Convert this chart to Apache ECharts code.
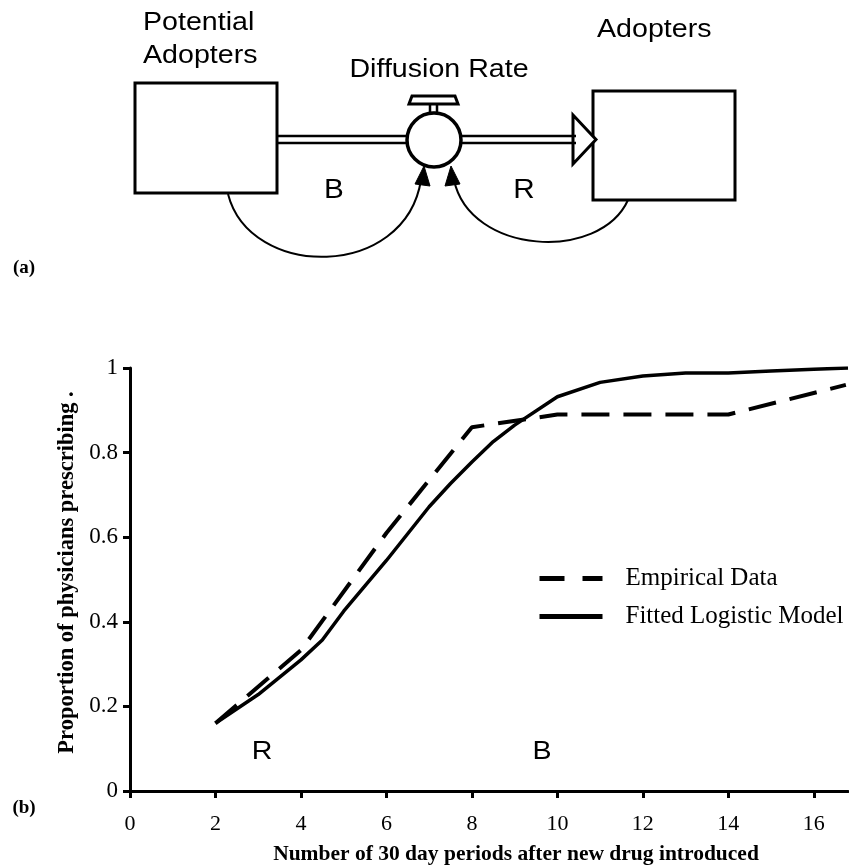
<!DOCTYPE html>
<html>
<head>
<meta charset="utf-8">
<script src="https://cdn.jsdelivr.net/npm/echarts@6/dist/echarts.min.js"></script>
<style>
html, body { margin: 0; padding: 0; background: #fff; }
#chart { width: 849px; height: 867px; }
</style>
</head>
<body>
<div id="chart"></div>
<script>
// data
var empiricalX = [2, 4, 6, 8, 10, 12, 14, 16.75];
var empiricalY = [0.16, 0.333, 0.61, 0.86, 0.89, 0.89, 0.89, 0.96];
var fittedX = [2, 3, 4, 4.5, 5, 6, 7, 7.5, 8, 8.5, 9, 10, 11, 12, 13, 14, 15, 16, 16.8];
var fittedY = [0.16, 0.228, 0.31, 0.357, 0.425, 0.545, 0.672, 0.727, 0.778, 0.826, 0.865, 0.932, 0.966, 0.981, 0.988, 0.988, 0.993, 0.997, 1.0];
var xTicks = [0, 2, 4, 6, 8, 10, 12, 14, 16];

function pairs(xs, ys) {
    var out = [];
    for (var i = 0; i < xs.length; i++) out.push([xs[i], ys[i]]);
    return out;
}

var serif = 'Liberation Serif, Times New Roman, serif';
var sans = 'Liberation Sans, Arial, sans-serif';

// plain text helper for the diagram, slightly wide like the original
function label(x, y, text, size, align) {
    return {
        type: 'text', x: x, y: y, scaleX: 1.1,
        style: { text: text, font: size + 'px ' + sans, fill: '#000', align: align || 'left', verticalAlign: 'middle' }
    };
}

/*
 stock and flow diagram (a)
 */
var diagram = [
    // stocks
    { type: 'rect', shape: { x: 135, y: 83, width: 142, height: 110 }, style: { fill: 'none', stroke: '#000', lineWidth: 3 } },
    { type: 'rect', shape: { x: 593, y: 91, width: 142, height: 109 }, style: { fill: 'none', stroke: '#000', lineWidth: 3 } },
    // pipes
    { type: 'line', shape: { x1: 277, y1: 136, x2: 410, y2: 136 }, style: { stroke: '#000', lineWidth: 2.5 } },
    { type: 'line', shape: { x1: 277, y1: 143, x2: 410, y2: 143 }, style: { stroke: '#000', lineWidth: 2.5 } },
    { type: 'polygon', shape: { points: [[573, 115], [596, 139.5], [573, 164]] }, style: { fill: '#fff', stroke: '#000', lineWidth: 3 } },
    { type: 'line', shape: { x1: 460, y1: 136, x2: 576, y2: 136 }, style: { stroke: '#000', lineWidth: 2.5 } },
    { type: 'line', shape: { x1: 460, y1: 143, x2: 576, y2: 143 }, style: { stroke: '#000', lineWidth: 2.5 } },
    // valve
    { type: 'rect', shape: { x: 430, y: 103, width: 7, height: 10 }, style: { fill: '#fff', stroke: '#000', lineWidth: 2.5 } },
    { type: 'polygon', shape: { points: [[412, 96], [455, 96], [458, 104], [409, 104]] }, style: { fill: '#fff', stroke: '#000', lineWidth: 3 } },
    { type: 'circle', shape: { cx: 434, cy: 140, r: 27 }, style: { fill: '#fff', stroke: '#000', lineWidth: 3.5 } },
    // loops
    { type: 'bezierCurve', shape: { x1: 228, y1: 194, cpx1: 250, cpy1: 280, cpx2: 405, cpy2: 280, x2: 421, y2: 180 }, style: { fill: 'none', stroke: '#000', lineWidth: 2 } },
    { type: 'polygon', shape: { points: [[424, 166], [430, 186], [415, 184]] }, style: { fill: '#000', stroke: '#000', lineWidth: 1 } },
    { type: 'bezierCurve', shape: { x1: 628, y1: 200, cpx1: 600, cpy1: 262, cpx2: 470, cpy2: 255, x2: 454, y2: 180 }, style: { fill: 'none', stroke: '#000', lineWidth: 2 } },
    { type: 'polygon', shape: { points: [[451, 166], [460, 184], [445, 186]] }, style: { fill: '#000', stroke: '#000', lineWidth: 1 } },
    // labels
    label(143, 23, 'Potential', 26),
    label(143, 56, 'Adopters', 26),
    label(439, 70, 'Diffusion Rate', 26, 'center'),
    label(597, 30, 'Adopters', 26),
    label(334, 191, 'B', 27, 'center'),
    label(524, 191, 'R', 27, 'center'),
    { type: 'text', style: { x: 24, y: 268, text: '(a)', font: 'bold 19px ' + serif, fill: '#000', align: 'center', verticalAlign: 'middle' } },
    { type: 'text', style: { x: 24, y: 808, text: '(b)', font: 'bold 19px ' + serif, fill: '#000', align: 'center', verticalAlign: 'middle' } },
    // loop labels inside the plot
    label(262, 752, 'R', 26, 'center'),
    label(542, 752, 'B', 26, 'center')
];

/*
 diffusion curve (b)
 */
var chart = echarts.init(document.getElementById('chart'), null, { renderer: 'canvas' });
chart.setOption({
    animation: false,
    backgroundColor: '#fff',
    grid: { left: 130, right: 1, top: 368, bottom: 76 },
    legend: {
        orient: 'vertical',
        left: 532,
        top: 561,
        itemWidth: 63,
        itemHeight: 14,
        itemGap: 13,
        itemStyle: { opacity: 0 },
        lineStyle: { width: 5 },
        textStyle: { fontFamily: serif, fontSize: 25, color: '#000', padding: [0, 0, 0, 18] },
        data: [
            { name: 'Empirical Data', lineStyle: { width: 5, type: [25, 18] } },
            { name: 'Fitted Logistic Model', lineStyle: { width: 5 } }
        ]
    },
    xAxis: {
        type: 'value',
        min: 0,
        max: 16.8,
        interval: 2,
        name: 'Number of 30 day periods after new drug introduced',
        nameLocation: 'middle',
        nameGap: 52,
        nameTextStyle: { fontFamily: serif, fontWeight: 'bold', fontSize: 21.5, color: '#000', padding: [0, 0, 0, 54] },
        axisLine: { lineStyle: { color: '#000', width: 3 } },
        axisTick: { inside: false, length: 7, lineStyle: { color: '#000', width: 3 }, customValues: xTicks },
        axisLabel: { fontFamily: serif, fontSize: 22, color: '#000', margin: 22, customValues: xTicks },
        splitLine: { show: false }
    },
    yAxis: {
        type: 'value',
        min: 0,
        max: 1,
        interval: 0.2,
        name: 'Proportion of physicians prescribing .',
        nameLocation: 'middle',
        nameGap: 50,
        nameTextStyle: { fontFamily: serif, fontWeight: 'bold', fontSize: 22.5, color: '#000', padding: [0, 0, 0, 14] },
        axisLine: { lineStyle: { color: '#000', width: 3 } },
        axisTick: { length: 7, lineStyle: { color: '#000', width: 3 } },
        axisLabel: { fontFamily: serif, fontSize: 23, color: '#000', margin: 12 },
        splitLine: { show: false }
    },
    series: [
        {
            name: 'Empirical Data',
            type: 'line',
            data: pairs(empiricalX, empiricalY),
            symbol: 'none',
            itemStyle: { color: '#000' },
            lineStyle: { color: '#000', width: 4, type: [28, 14] }
        },
        {
            name: 'Fitted Logistic Model',
            type: 'line',
            data: pairs(fittedX, fittedY),
            symbol: 'none',
            itemStyle: { color: '#000' },
            lineStyle: { color: '#000', width: 3.5 }
        }
    ],
    graphic: diagram
});
</script>
</body>
</html>
